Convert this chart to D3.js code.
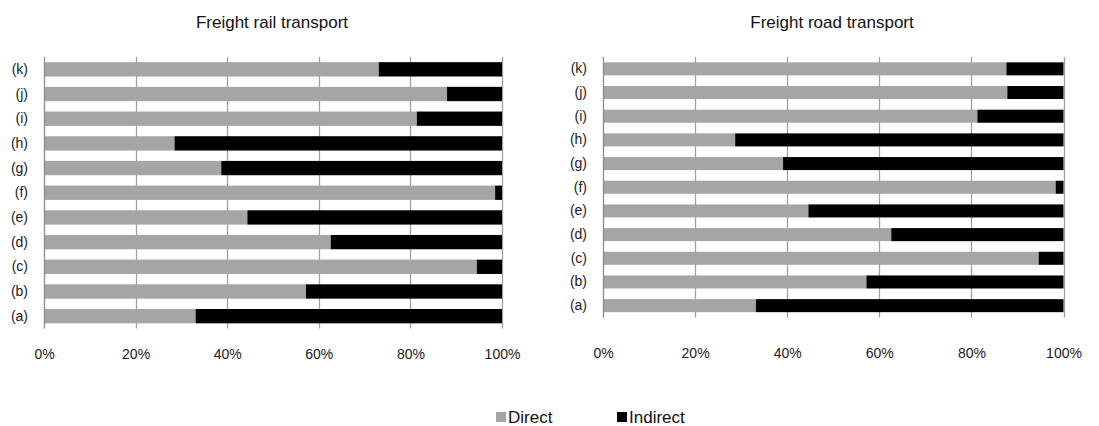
<!DOCTYPE html>
<html>
<head>
<meta charset="utf-8">
<script src="https://cdn.jsdelivr.net/npm/d3@7"></script>
<style>
  html, body { margin: 0; padding: 0; background: #fff; }
  svg { display: block; font-family: "Liberation Sans", Arial, sans-serif; }
</style>
</head>
<body>
<svg id="chart" width="1099" height="426"></svg>
<script>
// Categories listed bottom to top
const categories = ["(a)", "(b)", "(c)", "(d)", "(e)", "(f)", "(g)", "(h)", "(i)", "(j)", "(k)"];
const seriesNames = ["Direct", "Indirect"];
const railDirect   = [33.1, 57.2, 94.5, 62.6, 44.4, 98.5, 38.7, 28.5, 81.4, 88.0, 73.1];
const railIndirect = [66.9, 42.8, 5.5, 37.4, 55.6, 1.5, 61.3, 71.5, 18.6, 12.0, 26.9];
const roadDirect   = [33.2, 57.2, 94.6, 62.6, 44.6, 98.3, 39.1, 28.7, 81.3, 87.8, 87.6];
const roadIndirect = [66.8, 42.8, 5.4, 37.4, 55.4, 1.7, 60.9, 71.3, 18.7, 12.2, 12.4];
const tickValues = [0, 20, 40, 60, 80, 100];
const tickLabels = ["0%", "20%", "40%", "60%", "80%", "100%"];
const titles = ["Freight rail transport", "Freight road transport"];

const colors = { Direct: "#a5a5a5", Indirect: "#000000" };
const svg = d3.select("#chart");

function panel(cfg) {
  const rows = categories.map((c, i) => ({ cat: c, Direct: cfg.direct[i], Indirect: cfg.indirect[i] }));
  const x = d3.scaleLinear().domain([0, 100]).range([cfg.x0, cfg.x1]);
  const y = d3.scaleBand().domain(categories.slice().reverse()).range([cfg.y0, cfg.y1]).paddingInner(cfg.pad).paddingOuter(cfg.pad / 2);
  const g = svg.append("g");

  // title
  g.append("text").attr("x", cfg.tx).attr("y", 28).attr("text-anchor", "middle")
    .attr("font-size", 17).attr("fill", "#111").text(cfg.title);

  // gridlines
  g.append("g").selectAll("line").data(tickValues.slice(1)).join("line")
    .attr("x1", d => Math.round(x(d)) + 0.5).attr("x2", d => Math.round(x(d)) + 0.5)
    .attr("y1", cfg.y0).attr("y2", cfg.y1)
    .attr("stroke", "#a0a0a0").attr("stroke-width", 1.3);

  // bars
  const stacked = d3.stack().keys(seriesNames)(rows);
  g.append("g").selectAll("g").data(stacked).join("g")
    .attr("fill", d => colors[d.key])
    .selectAll("rect").data(d => d).join("rect")
    .attr("x", d => x(d[0])).attr("width", d => x(d[1]) - x(d[0]))
    .attr("y", d => y(d.data.cat)).attr("height", y.bandwidth());

  // vertical axis line
  g.append("line").attr("x1", Math.round(x(0)) + 0.5).attr("x2", Math.round(x(0)) + 0.5)
    .attr("y1", cfg.y0).attr("y2", cfg.y1).attr("stroke", "#8a8a8a").attr("stroke-width", 1.3);

  // category labels
  const yAxis = d3.axisLeft(y).tickSize(0).tickPadding(0);
  const ya = g.append("g").attr("transform", `translate(${x(0) - 16},0)`).call(yAxis);
  ya.select(".domain").remove();
  ya.selectAll("text").attr("font-size", 14).attr("fill", "#1a1a1a").attr("font-family", "Liberation Sans, Arial, sans-serif");

  // x tick labels
  const xAxis = d3.axisBottom(x).tickValues(tickValues).tickSize(0).tickPadding(0)
    .tickFormat((d, i) => tickLabels[i]);
  const xa = g.append("g").attr("transform", `translate(0,${cfg.labelY})`).call(xAxis);
  xa.select(".domain").remove();
  xa.selectAll("text").attr("font-size", 14).attr("fill", "#1a1a1a").attr("dy", 0)
    .attr("font-family", "Liberation Sans, Arial, sans-serif");
}

panel({ title: titles[0], direct: railDirect, indirect: railIndirect,
  x0: 44, x1: 502, y0: 57, y1: 328.5, pad: 0.42, tx: 272, labelY: 359 });
panel({ title: titles[1], direct: roadDirect, indirect: roadIndirect,
  x0: 603, x1: 1063.5, y0: 57, y1: 317.5, pad: 0.45, tx: 832, labelY: 358 });

// legend
const legend = svg.append("g");
const legendPos = [496, 617];
seriesNames.forEach((s, i) => {
  legend.append("rect").attr("x", legendPos[i]).attr("y", 412).attr("width", 10).attr("height", 10).attr("fill", colors[s]);
  legend.append("text").attr("x", legendPos[i] + 12).attr("y", 423).attr("font-size", 17).attr("fill", "#111").text(s);
});
</script>
</body>
</html>
